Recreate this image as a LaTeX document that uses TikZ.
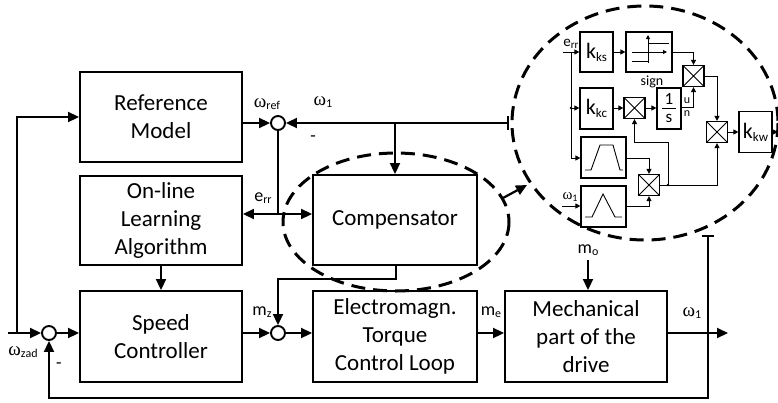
\documentclass[tikz,border=0pt]{standalone}
\usepackage{fontspec}
\setmainfont{Carlito}
\newfontfamily\symf{Liberation Serif}
\usetikzlibrary{arrows.meta,calc}
\newcommand\om{{\symf\fontsize{19}{19}\selectfont ω}}
\newcommand\sbs[1]{\raisebox{-2.5pt}{\fontsize{12}{12}\selectfont #1}}
\newcommand\kk[1]{{\fontsize{22}{22}\selectfont k}\raisebox{-3pt}{\fontsize{13}{13}\selectfont #1}}
\begin{document}
\begin{tikzpicture}[x=1pt,y=-1pt,
  blk/.style={draw, line width=1.9pt, minimum width=162pt, minimum height=90pt, align=center, font=\fontsize{23}{28}\selectfont, inner sep=0pt},
  sj/.style={circle, draw, line width=1.9pt, minimum size=14pt, inner sep=0pt},
  mainln/.style={line width=1.9pt},
  arr/.style={mainln, -{Triangle[length=11pt,width=10pt]}},
  ib/.style={draw, line width=1.2pt, inner sep=0pt},
  mult/.style={ib, minimum size=21pt, path picture={\draw[line width=0.9pt] (path picture bounding box.north west) -- (path picture bounding box.south east) (path picture bounding box.north east) -- (path picture bounding box.south west);}},
  iln/.style={line width=0.9pt},
  ia/.style={iln, -{Triangle[length=5pt,width=5pt]}},
  dsh/.style={line width=3pt, dash pattern=on 14pt off 8pt},
  lab/.style={font=\fontsize{18}{18}\selectfont, inner sep=0pt},
  dot/.style={circle, fill, inner sep=0pt, minimum size=2.6pt}
]
\useasboundingbox (0,0) rectangle (778,402);

% main blocks
\node[blk] (rm) at (161,117) {Reference\\Model};
\node[blk, minimum height=89pt] (ol) at (161,220.5) {On-line\\Learning\\Algorithm};
\node[blk, minimum height=91pt] (sc) at (161,336.5) {Speed\\Controller};
\node[blk, minimum width=164pt] (comp) at (395,220) {Compensator};
\node[blk, minimum width=164pt, minimum height=91pt] (em) at (395,336.5) {Electromagn.\\Torque\\Control Loop};
\node[blk, minimum height=91pt] (mech) at (586,336.5) {Mechanical\\part of the\\drive};

% summing junctions
\node[sj] (j1) at (278,123) {};
\node[sj] (j0) at (49,333) {};
\node[sj] (j2) at (278,333) {};

% coordinates
\coordinate (in) at (8,333);
\coordinate (lv) at (17,333);
\coordinate (lt) at (17,117);
\coordinate (w1bar) at (509,123);
\coordinate (cbr) at (395,123);
\coordinate (ebr) at (278,214);
\coordinate (cout) at (396,265);
\coordinate (cdn) at (396,279);
\coordinate (jup) at (278,279);
\coordinate (fbtop) at (708,235);
\coordinate (fbr) at (708,398);
\coordinate (fbl) at (49,398);
\coordinate (out) at (728,333);
\coordinate (motop) at (588,260);

% labels
\node[lab] (lref) at (267,104) {\om\sbs{ref}};
\node[lab] (lw1) at (323,102) {\om\sbs{1}};
\node[lab] (lmin1) at (313,139) {-};
\node[lab] (lerr) at (263,198) {e\sbs{rr}};
\node[lab] (lmz) at (262,312) {m\sbs{z}};
\node[lab] (lme) at (491,312) {m\sbs{e}};
\node[lab] (lmo) at (588,250) {m\sbs{o}};
\node[lab] (lw1o) at (692,313) {\om\sbs{1}};
\node[lab] (lzad) at (23,352) {\om\sbs{zad}};
\node[lab] (lmin0) at (59,366) {-};

% main connectors
\draw[arr] (in) -- (j0);
\draw[arr] (lv) -- (lt) -- (lt -| rm.west);
\draw[arr] (j0) -- (j0 -| sc.west);
\draw[arr] (j2 -| sc.east) -- (j2);
\draw[arr] (j2) -- (j2 -| em.west);
\draw[arr] (j2 -| em.east) -- (j2 -| mech.west);
\draw[arr] (j2 -| mech.east) -- (out);
\draw[arr] (j1 -| rm.east) -- (j1);
\draw[mainln, {Bar[width=14pt]}-{Triangle[length=11pt,width=10pt]}] (w1bar) -- (j1);
\draw[arr] (cbr) -- (cbr |- comp.north);
\draw[mainln] (j1) -- (ebr);
\draw[arr] (ebr) -- (ebr -| ol.east);
\draw[arr] (ebr) -- (ebr -| comp.west);
\draw[arr] (ol.south) -- (sc.north);
\draw[arr] (cout) -- (cdn) -- (jup) -- (j2);
\draw[arr] (motop) -- (motop |- mech.north);
\draw[mainln, {Bar[width=12pt]}-{Triangle[length=11pt,width=10pt]}] (fbtop) -- (fbr) -- (fbl) -- (j0);

% dashed ellipses
\draw[dsh] (396,222) ellipse [x radius=113, y radius=69];
\draw[dsh] (645,123) ellipse [x radius=133, y radius=117];
\coordinate (za) at (503,198);
\coordinate (zb) at (527,185);
\draw[mainln, line width=2.2pt, -{Triangle[length=11pt,width=10pt]}] (za) -- (zb);

% inner diagram
\node[ib, minimum width=33pt, minimum height=40pt] (kks) at (596.5,52) {\kk{ks}};
\node[ib, minimum width=46pt, minimum height=40pt] (sgn) at (649,52) {};
\node[font=\fontsize{14}{14}\selectfont, inner sep=0pt] (lsign) at (652,82) {sign};
\node[mult] (m1) at (693.5,76) {};
\node[ib, minimum width=33pt, minimum height=41pt] (kkc) at (596.5,108.5) {\kk{kc}};
\node[mult] (m2) at (634.5,108) {};
\node[ib, minimum width=24pt, minimum height=41pt] (integ) at (669,108.5) {};
\node[font=\fontsize{17}{17}\selectfont, inner sep=0pt] (one) at (669,99) {1};
\node[font=\fontsize{17}{17}\selectfont, inner sep=0pt] (ess) at (669,118) {s};
\draw[line width=1pt] (662,108) -- (676,108);
\node[mult] (m3) at (717,132) {};
\node[ib, minimum width=33pt, minimum height=41pt] (kkw) at (755.5,132) {\kk{kw}};
\node[ib, minimum width=45pt, minimum height=41pt] (trap) at (603.5,157.5) {};
\node[ib, minimum width=45pt, minimum height=41pt] (tri) at (603.5,206.5) {};
\node[mult] (m4) at (649,185) {};
\node[font=\fontsize{12}{12}\selectfont, inner sep=0pt] (lu) at (687,101) {u};
\node[font=\fontsize{12}{12}\selectfont, inner sep=0pt] (ln) at (687,114) {n};
\node[font=\fontsize{15}{15}\selectfont, inner sep=0pt] (lerr2) at (571,44) {e\raisebox{-2pt}{\fontsize{11}{11}\selectfont rr}};
\node[inner sep=0pt] (lw12) at (570,197) {{\symf\fontsize{15}{15}\selectfont ω}\raisebox{-2pt}{\fontsize{10}{10}\selectfont 1}};

% sign symbol
\draw[iln, -{Triangle[length=4pt,width=4pt]}] (648,63) -- (648,35);
\draw[iln, -{Triangle[length=4pt,width=4pt]}] (632,52) -- (667,52);
\draw[iln] (648,43) -- (669,43);
\draw[iln] (632,61) -- (648,61);
% trapezoid & triangle
\draw[iln] (585,170) -- (591,170) -- (600,145) -- (613,145) -- (620,170) -- (623,170);
\draw[iln] (585,217) -- (592,217) -- (603,194) -- (615,217) -- (622,217);

% inner connectors
\coordinate (ein) at (563,52);
\coordinate (ev) at (571,52);
\coordinate (evb) at (571,158);
\coordinate (evm) at (571,108);
\draw[ia] (ein) -- (kks.west);
\draw[iln] (ev) -- (evb);
\draw[ia] (evb) -- (evb -| trap.west);
\node[dot] (d1) at (evm) {};
\draw[ia] (evm) -- (evm -| kkc.west);
\draw[ia] (kks) -- (sgn);
\draw[ia] (sgn.east) -- (sgn.east -| m1) -- (m1.north);
\coordinate (io) at (681,107);
\draw[ia] (io) -- (io -| m1) -- (m1.south);
\draw[ia] (m1.east) -- (m1.east -| m3) -- (m3.north);
\draw[ia] (kkc.east |- m2) -- (m2.west);
\draw[ia] (m2.east) -- (m2.east -| integ.west);
\coordinate (tro) at (626,158);
\draw[ia] (tro) -- (tro -| m4) -- (m4.north);
\coordinate (tio) at (626,206);
\draw[ia] (tio) -- (tio -| m4) -- (m4.south);
\coordinate (wi) at (562,206);
\draw[ia] (wi) -- (wi -| tri.west);
\draw[ia] (m4.east) -- (m4.east -| m3) -- (m3.south);
\coordinate (br) at (668,185);
\node[dot] (d2) at (br) {};
\draw[ia] (br) -- (668,142) -- (634.5,142) -- (m2.south);
\draw[ia] (m3.east) -- (m3.east -| kkw.west);
\coordinate (kout) at (778,132);
\draw[ia] (kkw.east) -- (kout);
\end{tikzpicture}
\end{document}
